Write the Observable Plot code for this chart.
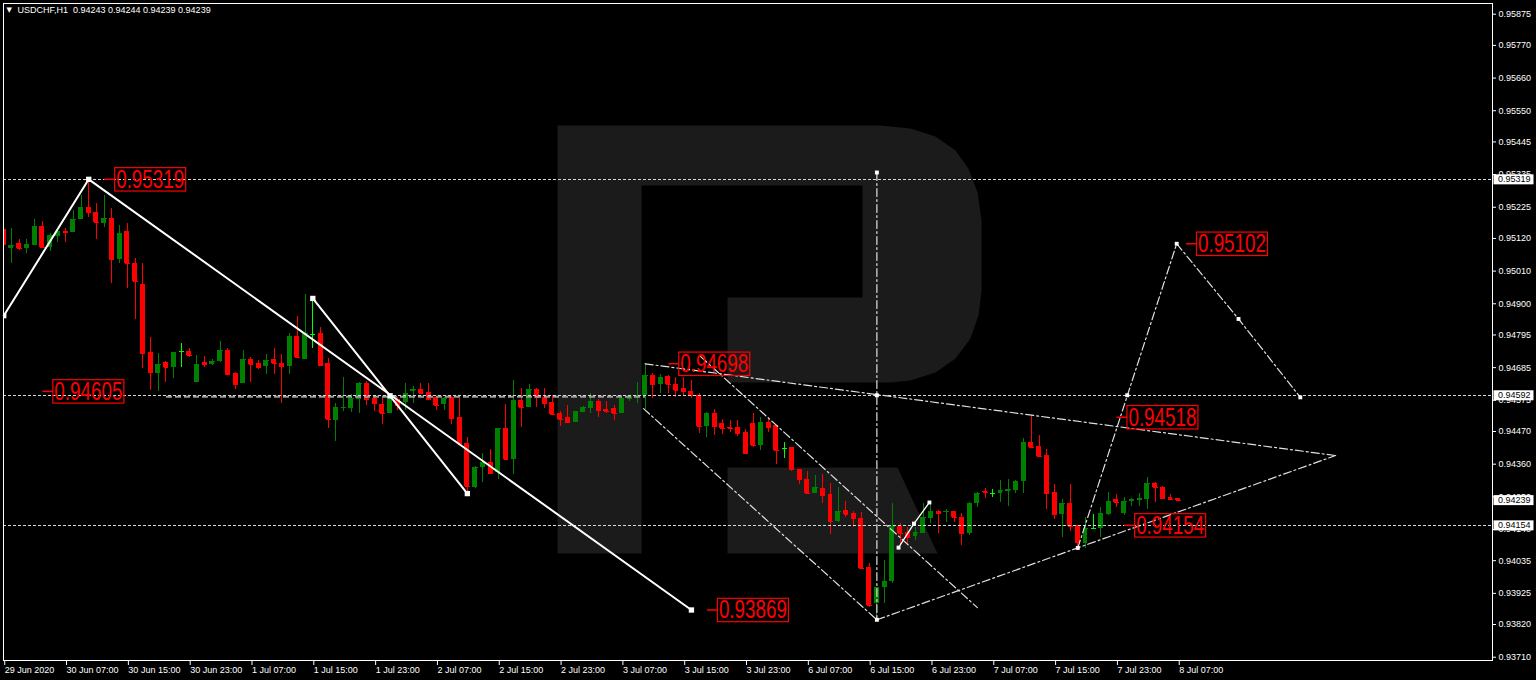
<!DOCTYPE html>
<html><head><meta charset="utf-8">
<script src="https://cdn.jsdelivr.net/npm/d3@7"></script>
<script src="https://cdn.jsdelivr.net/npm/@observablehq/plot@0.6"></script>
<style>html,body{margin:0;padding:0;background:#000;overflow:hidden}#chart svg{display:block}</style>
</head><body><div id="chart"></div>
<script>
// ---- OHLC data, USDCHF H1, bar 0 = 29 Jun 2020 23:00 ... bar 152 = 8 Jul 07:00 ----
const open = [0.95149,0.95085,0.95102,0.95087,0.95096,0.95161,0.95090,0.95127,0.95144,0.95141,
0.95183,0.95225,0.95206,0.95171,0.95186,0.95049,0.95143,0.95035,0.94965,0.94735,
0.94666,0.94701,0.94685,0.94739,0.94739,0.94636,0.94702,0.94696,0.94706,0.94743,
0.94664,0.94633,0.94712,0.94700,0.94689,0.94711,0.94700,0.94690,0.94791,0.94712,
0.94797,0.94799,0.94698,0.94507,0.94547,0.94546,0.94577,0.94633,0.94580,0.94560,
0.94532,0.94577,0.94569,0.94605,0.94610,0.94602,0.94583,0.94561,0.94583,0.94516,
0.94429,0.94280,0.94348,0.94365,0.94333,0.94479,0.94376,0.94574,0.94550,0.94611,
0.94585,0.94567,0.94530,0.94518,0.94501,0.94535,0.94548,0.94571,0.94544,0.94546,
0.94532,0.94577,0.94585,0.94591,0.94659,0.94628,0.94655,0.94628,0.94614,0.94606,
0.94591,0.94487,0.94530,0.94498,0.94484,0.94484,0.94468,0.94496,0.94423,0.94501,
0.94490,0.94412,0.94415,0.94342,0.94310,0.94262,0.94279,0.94258,0.94167,0.94204,
0.94195,0.94178,0.94011,0.93890,0.93946,0.93965,0.94150,0.94131,0.94116,0.94127,
0.94178,0.94200,0.94196,0.94200,0.94181,0.94127,0.94228,0.94269,0.94260,0.94260,
0.94269,0.94271,0.94302,0.94432,0.94419,0.94389,0.94264,0.94190,0.94227,0.94154,
0.94094,0.94144,0.94142,0.94189,0.94240,0.94193,0.94234,0.94238,0.94241,0.94296,
0.94280,0.94249,0.94243];
const high = [0.95157,0.95153,0.95116,0.95116,0.95183,0.95177,0.95137,0.95147,0.95152,0.95214,
0.95265,0.95319,0.95238,0.95265,0.95222,0.95164,0.95171,0.95051,0.95035,0.94788,
0.94732,0.94706,0.94737,0.94767,0.94750,0.94726,0.94722,0.94711,0.94773,0.94748,
0.94670,0.94743,0.94720,0.94709,0.94728,0.94750,0.94728,0.94799,0.94857,0.94930,
0.94918,0.94821,0.94715,0.94563,0.94651,0.94594,0.94636,0.94638,0.94591,0.94588,
0.94598,0.94583,0.94631,0.94621,0.94631,0.94631,0.94588,0.94583,0.94588,0.94580,
0.94449,0.94352,0.94395,0.94408,0.94479,0.94561,0.94642,0.94614,0.94628,0.94614,
0.94614,0.94591,0.94538,0.94557,0.94537,0.94554,0.94597,0.94577,0.94572,0.94557,
0.94591,0.94591,0.94636,0.94698,0.94664,0.94662,0.94659,0.94653,0.94653,0.94642,
0.94599,0.94535,0.94543,0.94509,0.94507,0.94507,0.94476,0.94532,0.94516,0.94518,
0.94490,0.94434,0.94415,0.94342,0.94335,0.94322,0.94324,0.94294,0.94282,0.94234,
0.94200,0.94196,0.94025,0.93946,0.94036,0.94228,0.94159,0.94148,0.94148,0.94227,
0.94227,0.94204,0.94206,0.94200,0.94193,0.94230,0.94265,0.94277,0.94274,0.94305,
0.94307,0.94305,0.94445,0.94524,0.94456,0.94408,0.94291,0.94241,0.94291,0.94154,
0.94179,0.94190,0.94215,0.94266,0.94258,0.94249,0.94243,0.94262,0.94316,0.94299,
0.94285,0.94257,0.94244];
const low = [0.95089,0.95036,0.95079,0.95070,0.95096,0.95090,0.95077,0.95107,0.95107,0.95141,
0.95183,0.95190,0.95116,0.95156,0.94967,0.95035,0.94952,0.94846,0.94683,0.94608,
0.94606,0.94636,0.94649,0.94685,0.94718,0.94636,0.94687,0.94692,0.94703,0.94662,
0.94611,0.94633,0.94636,0.94678,0.94662,0.94662,0.94565,0.94662,0.94720,0.94712,
0.94748,0.94692,0.94479,0.94437,0.94538,0.94535,0.94530,0.94557,0.94538,0.94494,
0.94532,0.94541,0.94541,0.94565,0.94599,0.94577,0.94541,0.94541,0.94494,0.94429,
0.94261,0.94277,0.94299,0.94328,0.94307,0.94376,0.94324,0.94484,0.94550,0.94552,
0.94546,0.94527,0.94487,0.94501,0.94501,0.94535,0.94532,0.94518,0.94532,0.94507,
0.94532,0.94572,0.94563,0.94543,0.94580,0.94597,0.94597,0.94585,0.94591,0.94580,
0.94464,0.94451,0.94456,0.94460,0.94468,0.94453,0.94392,0.94417,0.94406,0.94468,
0.94359,0.94378,0.94336,0.94291,0.94260,0.94262,0.94227,0.94122,0.94165,0.94179,
0.94148,0.94008,0.93878,0.93837,0.93892,0.93957,0.94086,0.94094,0.94103,0.94127,
0.94161,0.94125,0.94165,0.94165,0.94086,0.94120,0.94213,0.94243,0.94247,0.94232,
0.94218,0.94260,0.94260,0.94417,0.94383,0.94207,0.94174,0.94114,0.94134,0.94077,
0.94075,0.94139,0.94114,0.94187,0.94215,0.94187,0.94217,0.94218,0.94206,0.94232,
0.94243,0.94238,0.94239];
const close = [0.95100,0.95096,0.95087,0.95100,0.95160,0.95090,0.95130,0.95143,0.95139,0.95183,
0.95225,0.95208,0.95175,0.95186,0.95049,0.95138,0.95037,0.94975,0.94732,0.94668,
0.94696,0.94685,0.94735,0.94739,0.94726,0.94696,0.94697,0.94707,0.94743,0.94662,
0.94628,0.94712,0.94696,0.94687,0.94709,0.94698,0.94689,0.94791,0.94720,0.94799,
0.94797,0.94692,0.94509,0.94550,0.94550,0.94580,0.94633,0.94577,0.94565,0.94532,
0.94580,0.94557,0.94599,0.94610,0.94599,0.94577,0.94557,0.94580,0.94513,0.94429,
0.94285,0.94350,0.94365,0.94330,0.94479,0.94376,0.94574,0.94550,0.94611,0.94585,
0.94565,0.94527,0.94509,0.94501,0.94537,0.94550,0.94571,0.94541,0.94538,0.94532,
0.94580,0.94588,0.94591,0.94659,0.94628,0.94653,0.94628,0.94608,0.94605,0.94591,
0.94487,0.94530,0.94487,0.94479,0.94479,0.94464,0.94397,0.94423,0.94501,0.94484,
0.94406,0.94412,0.94341,0.94307,0.94262,0.94282,0.94254,0.94167,0.94200,0.94190,
0.94178,0.94008,0.93884,0.93946,0.93966,0.94150,0.94125,0.94112,0.94131,0.94181,
0.94200,0.94195,0.94200,0.94181,0.94127,0.94228,0.94262,0.94264,0.94260,0.94271,
0.94275,0.94302,0.94434,0.94417,0.94386,0.94262,0.94190,0.94227,0.94150,0.94097,
0.94142,0.94144,0.94193,0.94235,0.94232,0.94234,0.94240,0.94243,0.94296,0.94282,
0.94245,0.94241,0.94239];

// ---- axis ticks ----
const xTickBars = [0,8,16,24,32,40,48,56,64,72,80,88,96,104,112,120,128,136,144,152];
const xTickLabels = ["29 Jun 2020","30 Jun 07:00","30 Jun 15:00","30 Jun 23:00","1 Jul 07:00","1 Jul 15:00",
  "1 Jul 23:00","2 Jul 07:00","2 Jul 15:00","2 Jul 23:00","3 Jul 07:00","3 Jul 15:00","3 Jul 23:00",
  "6 Jul 07:00","6 Jul 15:00","6 Jul 23:00","7 Jul 07:00","7 Jul 15:00","7 Jul 23:00","8 Jul 07:00"];
const yTicks = [0.95875,0.95770,0.95660,0.95550,0.95445,0.95335,0.95225,0.95120,0.95010,0.94900,0.94795,
  0.94685,0.94575,0.94470,0.94360,0.94250,0.94140,0.94035,0.93925,0.93820,0.93710];
const priceTags = [0.95319,0.94592,0.94239,0.94154];
const symbol = "USDCHF,H1";

// ---- drawn analysis objects (bar index, price) ----
const levelLines = [0.95319,0.94592,0.94154];
const grayLevel = [{x1:21,x2:83,p:0.94587}];
const solidPts = [
  {id:"a",i:0,p:0.94860},{id:"a",i:11,p:0.95319},{id:"a",i:89,p:0.93869},
  {id:"b",i:40,p:0.94918},{id:"b",i:60,p:0.94261}];
const solidMarks = [{i:0,p:0.94860},{i:11,p:0.95319},{i:40,p:0.94918},{i:50,p:0.94590},{i:60,p:0.94261},{i:89,p:0.93869}];
const dashPts = [
  {id:"v",i:113,p:0.95342},{id:"v",i:113,p:0.93836},
  {id:"top",i:83,p:0.94698},{id:"top",i:172.36,p:0.94389},
  {id:"bot",i:113,p:0.93836},{id:"bot",i:172.36,p:0.94389},
  {id:"chL",i:82.8,p:0.94547},{id:"chL",i:113,p:0.93836},
  {id:"chH",i:90.2,p:0.94722},{id:"chH",i:126,p:0.93877},
  {id:"pr",i:139,p:0.94078},{id:"pr",i:151.8,p:0.95102},{id:"pr",i:159.8,p:0.94849},{id:"pr",i:167.8,p:0.94585}];
const dashMarks = [{i:113,p:0.95342},{i:113,p:0.94592},{i:113,p:0.93836},{i:139,p:0.94078},
  {i:145.4,p:0.94592},{i:151.8,p:0.95102},{i:159.8,p:0.94849},{i:167.8,p:0.94585}];
const smallZig = [{i:115.8,p:0.94079},{i:117.8,p:0.94160},{i:119.8,p:0.94231}];
const levelLabels = [{v:0.95319,bar:13},{v:0.94605,bar:5},{v:0.94698,bar:86},{v:0.93869,bar:91},
  {v:0.95102,bar:153},{v:0.94518,bar:144},{v:0.94154,bar:145}];

// ---- watermark "R" outline (bar index, price) ----
const wmBowl = [[71.67,0.95500],[113.47,0.95500],[117.35,0.95490],[120.59,0.95463],[123.18,0.95416],
  [124.86,0.95355],[126.03,0.95275],[126.55,0.95180],[126.55,0.94945],[126.16,0.94861],[125.12,0.94783],
  [123.18,0.94716],[120.59,0.94669],[117.35,0.94642],[114.76,0.94635],[93.67,0.94635],[93.67,0.94921],
  [111.14,0.94921],[111.14,0.95298],[82.54,0.95298],[82.54,0.94059],[71.67,0.94059]];
const wmLeg = [[93.67,0.94349],[115.67,0.94349],[120.85,0.94059],[93.67,0.94059]];

const bars = open.map((o,i)=>({i,o,h:high[i],l:low[i],c:close[i]}));
const last = bars[bars.length-1];
const titleText = `${symbol}\u00a0\u00a0${last.o.toFixed(5)} ${last.h.toFixed(5)} ${last.l.toFixed(5)} ${last.c.toFixed(5)}`;
const col = d => d.c > d.o ? "#008000" : d.c < d.o ? "#ff0000" : "#00ff00";
const wm = [...wmBowl.map(([i,p])=>({z:"bowl",i,p})), ...wmLeg.map(([i,p])=>({z:"leg",i,p}))];

const chart = Plot.plot({
  width: 1536, height: 680,
  marginLeft: 3, marginRight: 44, marginTop: 3, marginBottom: 20,
  style: {background: "#000", color: "#fff", fontFamily: "'Liberation Sans', Arial, sans-serif", fontSize: "9px"},
  x: {domain: [-0.03, 192.67]},
  y: {domain: [0.93699, 0.95911]},
  color: {type: "identity"},
  marks: [
    Plot.line(wm, {x:"i", y:"p", z:"z", fill:"#1b1b1b", stroke:"none", curve:"linear-closed"}),
    Plot.ruleX(bars, {x:"i", y1:"l", y2:"h", stroke: col, strokeWidth:1, clip:true, shapeRendering:"crispEdges"}),
    Plot.rect(bars, {x1:d=>d.i-0.32, x2:d=>d.i+0.32, y1:d=>Math.min(d.o,d.c), y2:d=>Math.max(d.o,d.c), fill: col, clip:true, shapeRendering:"crispEdges"}),
    Plot.link(bars, {x1:d=>d.i-0.32, x2:d=>d.i+0.32, y1:"c", y2:"c", stroke: col, strokeWidth:1, clip:true, shapeRendering:"crispEdges"}),
    Plot.link(grayLevel, {x1:"x1", x2:"x2", y1:"p", y2:"p", stroke:"#9a9a9a", strokeWidth:2, strokeDasharray:"6,3"}),
    Plot.ruleY(levelLines, {stroke:"#d8d8d8", strokeWidth:1, strokeDasharray:"3,2", shapeRendering:"crispEdges"}),
    Plot.line(dashPts, {x:"i", y:"p", z:"id", stroke:"#e0e0e0", strokeWidth:1.2, strokeDasharray:"8,3,2,3"}),
    Plot.line(smallZig, {x:"i", y:"p", stroke:"#ffffff", strokeWidth:1.3}),
    Plot.dot(smallZig, {x:"i", y:"p", symbol:"square", r:2.2, fill:"#ffffff", stroke:"none"}),
    Plot.dot(dashMarks, {x:"i", y:"p", symbol:"square", r:2.2, fill:"#ffffff", stroke:"none"}),
    Plot.line(solidPts, {x:"i", y:"p", z:"id", stroke:"#ffffff", strokeWidth:2}),
    Plot.dot(solidMarks, {x:"i", y:"p", symbol:"square", r:3, fill:"#ffffff", stroke:"none", clip:true}),
    Plot.text(levelLabels, {x:"bar", y:"v", text:d=>d.v.toFixed(5), dx:12, textAnchor:"start", lineAnchor:"middle",
      fill:"#fe0000", fontSize:26, fontFamily:"'Liberation Sans', Arial, sans-serif"}),
    Plot.axisY({anchor:"right", ticks:yTicks, tickFormat:d=>d.toFixed(5), tickSize:3, tickPadding:3}),
    Plot.axisX({ticks:xTickBars, tickFormat:i=>xTickLabels[xTickBars.indexOf(i)], tickSize:5, tickPadding:1, textAnchor:"start", dx:1}),
    Plot.text(priceTags, {y:d=>d, text:d=>d.toFixed(5), frameAnchor:"right", dx:5.5, textAnchor:"start", lineAnchor:"middle", fill:"#010101"}),
    Plot.text([titleText], {frameAnchor:"top-left", dx:14, dy:3, lineAnchor:"top", textAnchor:"start", fill:"#ffffff"}),
    Plot.text(["\u25BC"], {frameAnchor:"top-left", dx:3, dy:4, lineAnchor:"top", textAnchor:"start", fill:"#ffffff", fontSize:7, fontFamily:"'DejaVu Sans', sans-serif"}),
    Plot.frame({stroke:"#ffffff", shapeRendering:"crispEdges"})
  ]
});
document.getElementById("chart").appendChild(chart);

// decorate label boxes (positioned with each text's own transform)
const NS = "http://www.w3.org/2000/svg";
function mk(tag, attrs){ const e=document.createElementNS(NS,tag); for(const k in attrs) e.setAttribute(k, attrs[k]); return e; }
chart.querySelectorAll('g[fill="#fe0000"] text').forEach(t=>{
  t.setAttribute("textLength","68"); t.setAttribute("lengthAdjust","spacingAndGlyphs");
  const tr = t.getAttribute("transform") || "";
  t.parentNode.insertBefore(mk("rect",{x:-1.5,y:-11.7,width:71,height:23.4,fill:"none",stroke:"#fe0000","stroke-width":1.2,transform:tr}), t);
  t.parentNode.insertBefore(mk("line",{x1:-12,x2:-1.5,y1:0,y2:0,stroke:"#fe0000","stroke-width":1.5,transform:tr}), t);
});
chart.querySelectorAll('g[fill="#010101"] text').forEach(t=>{
  const tr = t.getAttribute("transform") || "";
  t.parentNode.insertBefore(mk("rect",{x:-4.5,y:-5,width:40,height:10,fill:"#ffffff",stroke:"none",transform:tr}), t);
});
</script>
</body></html>
